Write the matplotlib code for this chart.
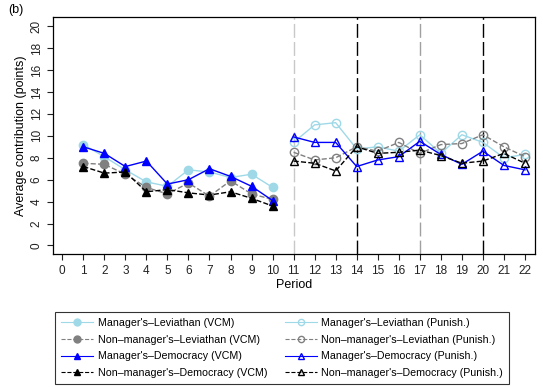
import numpy as np
import matplotlib
matplotlib.use("Agg")
import matplotlib.pyplot as plt
from matplotlib.lines import Line2D

plt.rcParams["font.family"] = ["Liberation Sans", "DejaVu Sans"]

# periods
vcm_periods = list(range(1, 11))
pun_periods = list(range(11, 23))

# VCM phase (periods 1-10)
mgr_lev_vcm = [9.2, 8.1, 6.9, 5.8, 5.4, 6.9, 6.7, 6.2, 6.5, 5.3]
non_lev_vcm = [7.5, 7.4, 6.5, 5.3, 4.7, 5.7, 4.5, 5.9, 4.7, 4.2]
mgr_dem_vcm = [9.0, 8.4, 7.2, 7.7, 5.6, 6.0, 7.0, 6.3, 5.4, 4.1]
non_dem_vcm = [7.2, 6.6, 6.7, 4.9, 5.1, 4.8, 4.6, 4.9, 4.3, 3.6]

# punishment phase (periods 11-22)
mgr_lev_pun = [9.4, 11.0, 11.2, 8.8, 9.0, 8.6, 10.1, 8.4, 10.1, 9.4, 8.0, 8.3]
non_lev_pun = [8.5, 7.8, 8.0, 9.0, 8.6, 9.4, 8.4, 9.2, 9.3, 10.1, 9.0, 8.1]
mgr_dem_pun = [9.9, 9.4, 9.4, 7.2, 7.8, 8.1, 9.5, 8.3, 7.4, 8.6, 7.3, 6.9]
non_dem_pun = [7.7, 7.5, 6.8, 9.0, 8.4, 8.5, 8.7, 8.2, 7.5, 7.7, 8.4, 7.5]

vlines = [11, 14, 17, 20]
vline_cols = ["#c8c8c8", "black", "#a0a0a0", "black"]

labels_vcm = ["Manager's\u2013Leviathan (VCM)", "Non\u2013manager's\u2013Leviathan (VCM)",
              "Manager's\u2013Democracy (VCM)", "Non\u2013manager's\u2013Democracy (VCM)"]
labels_pun = ["Manager's\u2013Leviathan (Punish.)", "Non\u2013manager's\u2013Leviathan (Punish.)",
              "Manager's\u2013Democracy (Punish.)", "Non\u2013manager's\u2013Democracy (Punish.)"]

fig = plt.figure(figsize=(5.43, 3.87), dpi=100)
ax = fig.add_axes([0.098, 0.343, 0.887, 0.612])

for xv, c in zip(vlines, vline_cols):
    ax.axvline(xv, color=c, lw=1.0, dashes=(10, 3), zorder=1)

lev_c = "#9fd9e8"
gray_c = "#808080"
styles = [
    (lev_c, "-", "o"),
    (gray_c, "--", "o"),
    ("blue", "-", "^"),
    ("black", "--", "^"),
]
vcm_data = [mgr_lev_vcm, non_lev_vcm, mgr_dem_vcm, non_dem_vcm]
pun_data = [mgr_lev_pun, non_lev_pun, mgr_dem_pun, non_dem_pun]

h_vcm, h_pun = [], []
for (c, ls, m), y, lab in zip(styles, vcm_data, labels_vcm):
    ax.plot(vcm_periods, y, color=c, ls=ls, marker=m, ms=6, lw=1.0, zorder=3)
    h_vcm.append(Line2D([], [], color=c, ls=ls, marker=m, ms=5, lw=0.8, label=lab))
for (c, ls, m), y, lab in zip(styles, pun_data, labels_pun):
    ax.plot(pun_periods, y, color=c, ls=ls, marker=m, ms=6, lw=1.0,
            mfc="none", mec=c, mew=1.0, zorder=3)
    h_pun.append(Line2D([], [], color=c, ls=ls, marker=m, ms=4.5, lw=0.8,
                        mfc="none", mec=c, label=lab))

ax.set_xlim(-0.43, 22.47)
ax.set_ylim(-0.8, 20.8)
ax.set_xticks(range(0, 23))
ax.set_yticks(range(0, 21, 2))
ax.tick_params(axis="both", labelsize=8.5, colors="#222222", length=4, width=0.8)
ax.tick_params(axis="y", labelrotation=90)
for lab in ax.get_yticklabels():
    lab.set_va("center")
ax.set_xlabel("Period", fontsize=9, labelpad=2)
ax.set_ylabel("Average contribution (points)", fontsize=9, labelpad=3)
for s in ax.spines.values():
    s.set_linewidth(0.9)

fig.text(0.015, 0.975, "(b)", fontsize=9, va="center", ha="left")

leg = fig.legend(handles=h_vcm + h_pun, ncol=2, loc="lower left",
                 bbox_to_anchor=(0.102, 0.008, 0.835, 0.219), mode="expand",
                 fontsize=7.7, frameon=True, fancybox=False, edgecolor="black",
                 handlelength=3.0, handletextpad=0.4, labelspacing=0.62,
                 borderpad=0.55, borderaxespad=0, columnspacing=1.5)
leg.get_frame().set_linewidth(0.8)

fig.savefig("out.png", dpi=100)
